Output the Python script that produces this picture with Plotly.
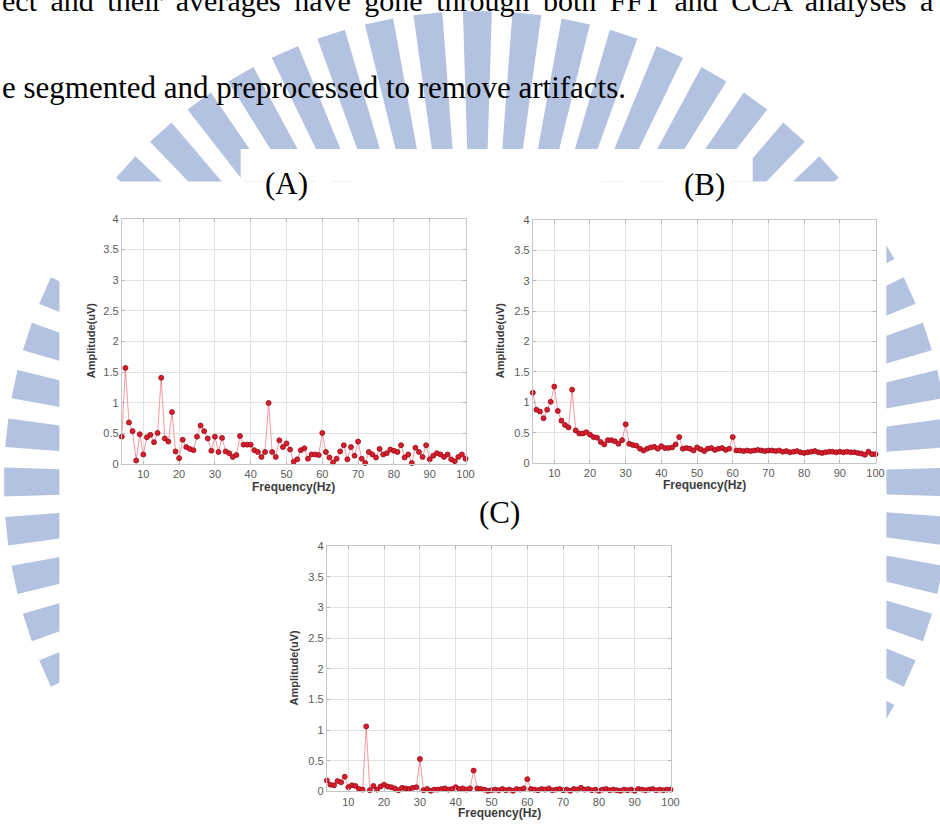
import math
import plotly.graph_objects as go

W, H = 940, 828

# ---- spectra: amplitude (uV) at 1 Hz steps from 4 to 100 Hz ----
freq = list(range(4, 101))

amp_a = [0.45, 1.57, 0.68, 0.54, 0.06, 0.49, 0.16, 0.44, 0.48, 0.36,
         0.51, 1.41, 0.42, 0.37, 0.85, 0.21, 0.10, 0.40, 0.28, 0.25,
         0.23, 0.45, 0.63, 0.54, 0.42, 0.22, 0.45, 0.20, 0.43, 0.21,
         0.18, 0.12, 0.15, 0.46, 0.32, 0.32, 0.32, 0.23, 0.20, 0.12,
         0.20, 1.00, 0.20, 0.12, 0.39, 0.28, 0.34, 0.24, 0.04, 0.08,
         0.23, 0.26, 0.09, 0.16, 0.16, 0.15, 0.51, 0.20, 0.11, 0.03,
         0.09, 0.21, 0.31, 0.08, 0.28, 0.14, 0.37, 0.09, 0.02, 0.20,
         0.16, 0.11, 0.25, 0.16, 0.18, 0.24, 0.22, 0.20, 0.31, 0.11,
         0.16, 0.02, 0.27, 0.20, 0.12, 0.31, 0.08, 0.14, 0.18, 0.16,
         0.12, 0.16, 0.08, 0.05, 0.12, 0.16, 0.09]

amp_b = [1.16, 0.88, 0.85, 0.74, 0.88, 1.01, 1.26, 0.86, 0.70, 0.63,
         0.59, 1.21, 0.54, 0.49, 0.49, 0.51, 0.47, 0.43, 0.42, 0.35,
         0.31, 0.38, 0.38, 0.36, 0.32, 0.38, 0.64, 0.32, 0.30, 0.29,
         0.24, 0.21, 0.24, 0.26, 0.27, 0.24, 0.28, 0.25, 0.25, 0.26,
         0.31, 0.43, 0.24, 0.25, 0.24, 0.21, 0.26, 0.23, 0.20, 0.24,
         0.25, 0.22, 0.24, 0.25, 0.22, 0.24, 0.43, 0.21, 0.21, 0.20,
         0.21, 0.20, 0.21, 0.22, 0.21, 0.20, 0.21, 0.21, 0.20, 0.21,
         0.19, 0.20, 0.18, 0.19, 0.20, 0.18, 0.17, 0.18, 0.19, 0.20,
         0.18, 0.17, 0.18, 0.19, 0.19, 0.18, 0.19, 0.18, 0.19, 0.18,
         0.18, 0.17, 0.16, 0.14, 0.19, 0.15, 0.15]

amp_c = [0.18, 0.11, 0.10, 0.17, 0.15, 0.24, 0.07, 0.10, 0.09, 0.04,
         0.03, 1.06, 0.02, 0.09, 0.03, 0.08, 0.11, 0.08, 0.07, 0.05,
         0.02, 0.06, 0.05, 0.04, 0.06, 0.07, 0.53, 0.02, 0.04, 0.01,
         0.03, 0.03, 0.04, 0.05, 0.03, 0.04, 0.07, 0.04, 0.05, 0.03,
         0.05, 0.34, 0.05, 0.04, 0.03, 0.01, 0.02, 0.03, 0.02, 0.04,
         0.02, 0.03, 0.01, 0.04, 0.03, 0.05, 0.20, 0.04, 0.03, 0.02,
         0.04, 0.03, 0.05, 0.02, 0.03, 0.04, 0.02, 0.03, 0.01, 0.04,
         0.03, 0.06, 0.03, 0.04, 0.02, 0.03, 0.01, 0.03, 0.04, 0.02,
         0.03, 0.02, 0.01, 0.03, 0.02, 0.03, 0.01, 0.04, 0.03, 0.02,
         0.03, 0.04, 0.02, 0.03, 0.02, 0.03, 0.03]

panel_labels = ["(A)", "(B)", "(C)"]
x_ticks = [10, 20, 30, 40, 50, 60, 70, 80, 90, 100]
y_ticks = [0, 0.5, 1, 1.5, 2, 2.5, 3, 3.5, 4]
y_tick_text = ["0", "0.5", "1", "1.5", "2", "2.5", "3", "3.5", "4"]
x_title = "Frequency(Hz)"
y_title = "Amplitude(uV)"
text_line1 = "ect and their averages have gone through both FFT and CCA analyses a"
text_line2 = "e segmented and preprocessed to remove artifacts."

assert len(amp_a) == len(amp_b) == len(amp_c) == len(freq)


def fx(p):
    return p / W


def fy(p):
    return 1 - p / H


# plot boxes in page pixels: left, right, top, bottom
boxes = [(123, 470, 216, 465), (538, 884, 217, 464), (330, 677, 548, 797)]
series = [amp_a, amp_b, amp_c]

fig = go.Figure()
axis_font = dict(family="Liberation Sans", size=11, color="#5a5a5a")
common = dict(showgrid=True, gridcolor="#e2e2e2", gridwidth=1,
              showline=True, linecolor="#c6c6c6", linewidth=1, mirror="ticks",
              ticks="inside", ticklen=3, tickcolor="#b5b5b5",
              zeroline=False, tickfont=axis_font, fixedrange=True)

layout_axes = {}
for i, (box, amp) in enumerate(zip(boxes, series)):
    n = "" if i == 0 else str(i + 1)
    l, r, t, b = box
    fig.add_trace(go.Scatter(
        x=freq, y=amp, mode="lines+markers",
        xaxis="x" + n, yaxis="y" + n, cliponaxis=False,
        line=dict(color="rgba(240,70,80,0.55)", width=1),
        marker=dict(size=5, color="#dc1c2c",
                    line=dict(color="#8e0c18", width=0.8)),
        showlegend=False, hoverinfo="skip"))
    layout_axes["xaxis" + n] = dict(common, domain=[fx(l), fx(r)], range=[4, 100],
                                    tickvals=x_ticks, anchor="y" + n)
    layout_axes["yaxis" + n] = dict(common, domain=[fy(b), fy(t)], range=[0, 4],
                                    tickvals=y_ticks, ticktext=y_tick_text,
                                    anchor="x" + n)

# ---- watermark ring of radial bars behind the page ----
shapes = []
cx, cy, r_out, r_in = 482, 483, 478, 330
wm_color = "#b3c2e0"
for k in range(60):
    deg = (90 + 6 * k) % 360
    if 215 < deg < 325:          # lower part of the ring lies under the figure
        continue
    ang = math.radians(deg)
    hw = math.radians(1.75)
    pts = []
    for rr, a in [(r_in, ang - hw), (r_out, ang - hw), (r_out, ang + hw), (r_in, ang + hw)]:
        x = cx + rr * math.cos(a)
        y = cy - rr * math.sin(a)
        pts.append((fx(x), fy(y)))
    path = "M " + " L ".join(f"{a:.5f},{b:.5f}" for a, b in pts) + " Z"
    shapes.append(dict(type="path", path=path, xref="paper", yref="paper",
                       fillcolor=wm_color, line=dict(width=0), layer="below"))

# white figure sheet covering the centre of the page
sheet = [(60, 895, 178, 900), (243, 760, 145, 178)]
for l, r, t, b in sheet:
    shapes.append(dict(type="rect", xref="paper", yref="paper",
                       x0=fx(l), x1=fx(r), y0=fy(b), y1=fy(t),
                       fillcolor="white", line=dict(width=0), layer="below"))

annotations = []
serif = "Liberation Serif"
# the first line is fully justified, so widen its word gaps with thin spaces
line1 = text_line1.replace(" ", " \u2009")
annotations.append(dict(text=line1, x=fx(0), y=fy(-6), xref="paper", yref="paper",
                        xanchor="left", yanchor="middle", showarrow=False,
                        font=dict(family=serif, size=30, color="black")))
annotations.append(dict(text=text_line2, x=fx(0), y=fy(83), xref="paper", yref="paper",
                        xanchor="left", yanchor="middle", showarrow=False,
                        font=dict(family=serif, size=31, color="black")))

label_pos = [(289, 180), (711, 181), (504, 514)]
for lab, (x, y) in zip(panel_labels, label_pos):
    annotations.append(dict(text=lab, x=fx(x), y=fy(y), xref="paper", yref="paper",
                            xanchor="center", yanchor="middle", showarrow=False,
                            font=dict(family=serif, size=31, color="black")))

xt_pos = [(296, 488), (711, 486), (504, 819)]
yt_pos = [(92, 340), (505, 340), (297, 672)]
for (x, y) in xt_pos:
    annotations.append(dict(text="<b>" + x_title + "</b>", x=fx(x), y=fy(y),
                            xref="paper", yref="paper", xanchor="center", yanchor="middle",
                            showarrow=False,
                            font=dict(family="Liberation Sans", size=12, color="#3c3c3c")))
for (x, y) in yt_pos:
    annotations.append(dict(text="<b>" + y_title + "</b>", x=fx(x), y=fy(y),
                            xref="paper", yref="paper", xanchor="center", yanchor="middle",
                            textangle=-90, showarrow=False,
                            font=dict(family="Liberation Sans", size=11, color="#3c3c3c")))

fig.update_layout(width=W, height=H, margin=dict(l=0, r=0, t=0, b=0),
                  paper_bgcolor="white", plot_bgcolor="rgba(0,0,0,0)",
                  shapes=shapes, annotations=annotations, **layout_axes)

fig.write_html("out.html", include_plotlyjs=True, config={"displayModeBar": False})
